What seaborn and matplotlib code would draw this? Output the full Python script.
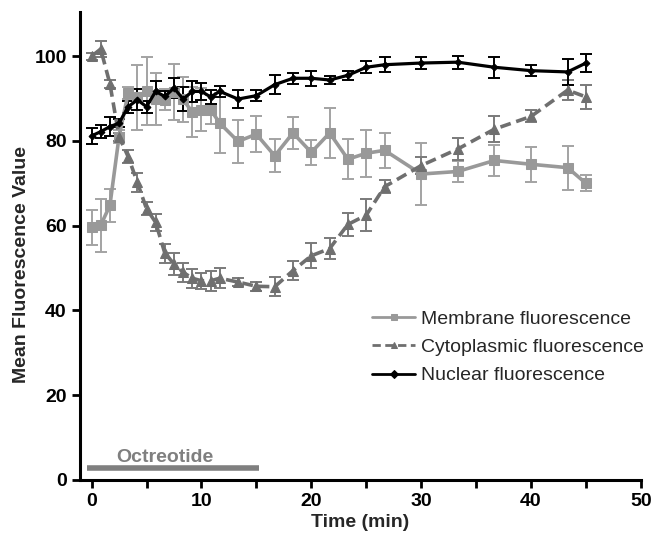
import pandas as pd
import matplotlib
matplotlib.use('Agg')
import matplotlib.pyplot as plt
import seaborn as sns

# 时间点 (min)
times = [0, 0.83, 1.67, 2.5, 3.33, 4.17, 5, 5.83, 6.67, 7.5, 8.33, 9.17, 10, 10.83, 11.67,
         13.33, 15, 16.67, 18.33, 20, 21.67, 23.33, 25, 26.67, 30, 33.33, 36.67, 40, 43.33, 45]

membrane = [59.6, 60.1, 64.8, 81.0, 91.3, 90.3, 91.8, 89.9, 89.7, 91.5, 89.8, 86.8, 87.4, 87.4, 84.2,
            79.9, 81.6, 76.5, 81.9, 77.3, 81.9, 75.7, 77.1, 77.8, 72.2, 72.8, 75.4, 74.5, 73.7, 70.0]
membrane_err = [4.1, 6.3, 3.9, 1.5, 1.5, 7.7, 8.0, 6.1, 2.5, 6.6, 5.4, 5.9, 5.0, 3.5, 7.1,
                5.1, 4.2, 3.9, 3.7, 3.0, 6.0, 4.7, 5.5, 4.1, 7.3, 2.5, 3.7, 4.1, 5.2, 1.9]

cyto = [100.0, 101.7, 93.5, 81.0, 76.3, 70.2, 64.0, 60.8, 53.5, 51.0, 49.0, 47.6, 47.0, 47.0, 47.6,
        46.7, 45.7, 45.6, 49.4, 52.9, 54.6, 60.3, 62.5, 69.2, 74.2, 78.1, 82.8, 85.8, 92.0, 90.4]
cyto_err = [0.8, 1.8, 1.0, 1.0, 1.5, 2.2, 1.5, 2.0, 2.2, 2.6, 2.3, 2.2, 1.9, 2.4, 2.4,
            0.9, 1.0, 2.2, 2.2, 3.0, 2.5, 2.7, 3.8, 1.5, 2.0, 2.6, 3.0, 1.4, 2.4, 2.9]

nuclear = [81.2, 82.2, 83.4, 84.2, 88.1, 89.7, 88.1, 91.7, 90.5, 92.5, 89.9, 91.7, 91.7, 90.4, 91.7,
           89.9, 90.7, 93.3, 94.8, 94.8, 94.4, 95.5, 97.4, 98.0, 98.4, 98.6, 97.4, 96.6, 96.3, 98.4]
nuclear_err = [1.85, 1.6, 2.3, 1.0, 1.4, 2.5, 1.4, 2.4, 1.4, 2.4, 2.8, 2.4, 2.0, 1.65, 1.3,
               2.1, 1.3, 2.2, 1.3, 1.8, 1.0, 1.0, 1.4, 1.8, 1.4, 1.5, 2.5, 1.3, 3.1, 2.2]

series_names = ['Membrane fluorescence', 'Cytoplasmic fluorescence', 'Nuclear fluorescence']
drug_label = 'Octreotide'
drug_start, drug_end = -0.4, 15.2

sns.set_theme(style='ticks')
plt.rcParams['font.family'] = ['Liberation Sans', 'DejaVu Sans']

fig = plt.figure(figsize=(6.56, 5.35), dpi=100)
ax = fig.add_axes([0.122, 0.103, 0.855, 0.875])

# 三条曲线的样式
styles = [
    dict(y=membrane, err=membrane_err, color='#999999', ecolor='#a3a3a3', marker='s', ms=6.5, dash=None, lw=2.6),
    dict(y=cyto, err=cyto_err, color='#6f6f6f', ecolor='#7a7a7a', marker='^', ms=6.5, dash=(3, 1.6), lw=2.6),
    dict(y=nuclear, err=nuclear_err, color='black', ecolor='black', marker='D', ms=3.5, dash=None, lw=2.3),
]

for name, st in zip(series_names, styles):
    ax.errorbar(times, st['y'], yerr=st['err'], fmt='none', ecolor=st['ecolor'],
                elinewidth=1.4, capsize=4.5, capthick=1.4, zorder=2)
    df = pd.DataFrame({'Time': times, 'Value': st['y']})
    sns.lineplot(data=df, x='Time', y='Value', ax=ax, color=st['color'], linewidth=st['lw'],
                 marker=st['marker'], markersize=st['ms'], markeredgecolor=st['color'],
                 label=name, zorder=3)
    if st['dash'] is not None:
        ax.lines[-1].set_dashes(st['dash'])

# Octreotide 给药条
ax.plot([drug_start, drug_end], [2.8, 2.8], color='#7f7f7f', linewidth=4, solid_capstyle='butt')
ax.text(6.7, 5.3, drug_label, color='#7f7f7f', fontsize=14, fontweight='bold',
        ha='center', va='center')

ax.set_xlim(-1.05, 50)
ax.set_ylim(0, 110.5)
ax.set_xticks(range(0, 51, 5))
ax.set_xticklabels([str(v) if v % 10 == 0 else '' for v in range(0, 51, 5)])
ax.set_yticks(range(0, 101, 20))
ax.tick_params(axis='both', direction='out', length=6, width=2, labelsize=14, colors='black')
for lab in ax.get_xticklabels() + ax.get_yticklabels():
    lab.set_fontweight('bold')
for side in ['left', 'bottom']:
    ax.spines[side].set_linewidth(2.2)
    ax.spines[side].set_color('black')
sns.despine(ax=ax)

ax.set_xlabel('Time (min)', fontsize=14, fontweight='bold', labelpad=3)
ax.set_ylabel('Mean Fluorescence Value', fontsize=14, fontweight='bold', labelpad=6)
ax.yaxis.set_label_coords(-0.09, 0.46)

leg = ax.legend(loc='upper left', bbox_to_anchor=(0.49, 0.4), frameon=False, fontsize=14,
                handlelength=2.2, handletextpad=0.3, labelspacing=0.55)
for h in leg.get_lines():
    h.set_linewidth(2)
    h.set_markersize(4)

fig.savefig('out.png', dpi=100)
